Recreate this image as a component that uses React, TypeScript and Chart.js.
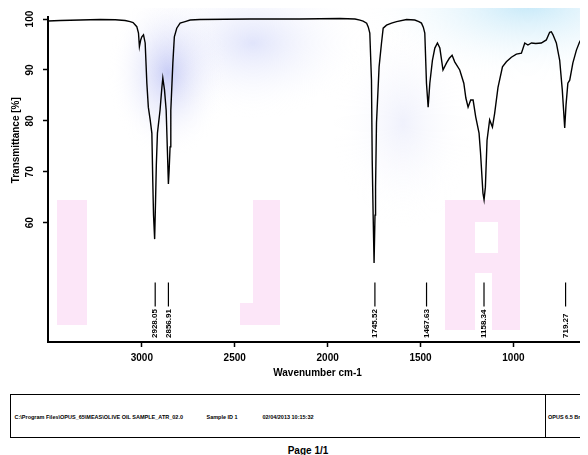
import React, { useEffect, useRef } from 'react';
import { Chart, registerables } from 'chart.js';

Chart.register(...registerables);

// Spectrum (wavenumber cm-1 -> transmittance %)
const wavenumbers = [
  3505, 3439, 3332, 3224, 3143, 3090, 3063, 3047, 3027, 3018,
  3013, 3006, 3000, 2991, 2982, 2973, 2965, 2955, 2946, 2941,
  2937, 2931, 2926, 2922, 2916, 2902, 2892, 2887, 2878, 2869,
  2862, 2857, 2853, 2848, 2844, 2833, 2825, 2812, 2794, 2767,
  2740, 2687, 2418, 2149, 1934, 1853, 1826, 1809, 1790, 1781,
  1773, 1764, 1760, 1755, 1750, 1745, 1742, 1737, 1723, 1710,
  1701, 1683, 1656, 1629, 1575, 1531, 1509, 1495, 1485, 1477,
  1468, 1459, 1450, 1436, 1423, 1409, 1396, 1379, 1360, 1345,
  1330, 1316, 1289, 1267, 1256, 1244, 1230, 1217, 1203, 1185,
  1177, 1164, 1158, 1151, 1142, 1128, 1113, 1101, 1083, 1059,
  1038, 1011, 984, 957, 939, 922, 903, 880, 850, 823,
  805, 796, 787, 769, 751, 737, 730, 724, 717, 707,
  697, 680, 661, 644, 631, 617, 604,
];
const transmittance = [
  99.6, 99.7, 99.8, 99.9, 99.85, 99.7, 99.5, 99.3, 98.5, 97.25,
  94.6, 95.9, 96.5, 96.9, 95.3, 87.4, 82.7, 80.2, 77.6, 68.0,
  61.5, 56.8, 64.5, 71.3, 77.6, 82.1, 86.6, 88.4, 86.1, 82.1,
  73.7, 67.6, 70.3, 74.9, 82.1, 91.4, 96.5, 98.2, 99.2, 99.5,
  99.8, 99.9, 100, 100, 100.1, 100, 99.8, 99.6, 99.2, 98.4,
  97.25, 88.0, 72.3, 61.5, 52.1, 61.5, 67.0, 79.6, 90.6, 95.3,
  98.2, 98.8, 99.2, 99.5, 99.9, 99.8, 99.5, 99.2, 98.4, 97.25,
  87.4, 82.7, 87.4, 91.9, 94.3, 95.3, 94.3, 90.0, 91.4, 92.3,
  92.9, 91.6, 90.0, 87.4, 84.5, 82.7, 84.1, 84.1, 80.8, 77.6,
  73.7, 65.8, 64.5, 67.0, 76.2, 80.2, 78.8, 81.5, 86.6, 90.6,
  91.6, 92.5, 93.1, 93.3, 95.3, 94.9, 95.3, 95.2, 95.3, 95.9,
  97.4, 97.5, 96.9, 95.3, 91.9, 86.1, 82.1, 78.6, 83.1, 87.4,
  88.0, 91.4, 93.9, 95.5, 96.3, 95.5, 94.9,
];

const xTickValues = [3000, 2500, 2000, 1500, 1000];
const yTickValues = [60, 70, 80, 90, 100];
const xMin = 604;
const xMax = 3505;
const yMin = 36.6;
const yMax = 100.4;

const peakPositions = [2928.05, 2856.91, 1745.52, 1467.63, 1158.34, 719.27];
const peakLabels = peakPositions.map((v) => v.toFixed(2));

const xTitle = 'Wavenumber cm-1';
const yTitle = 'Transmittance [%]';
const yTitleCenterValue = 76.2;

const footerPath = 'C:\\Program Files\\OPUS_65\\MEAS\\OLIVE OIL SAMPLE_ATR_02.0';
const footerSample = 'Sample ID 1';
const footerDate = '02/04/2013 10:15:32';
const footerRight = 'OPUS 6.5 Bruker Optik';
const pageText = 'Page 1/1';

const FONT = '"Liberation Sans", Arial, Helvetica, sans-serif';

const watermarkPlugin = {
  id: 'watermark',
  beforeDraw(chart: any) {
    const ctx = chart.ctx as CanvasRenderingContext2D;
    ctx.save();
    const blob = (cx: number, cy: number, rx: number, ry: number, color: string) => {
      ctx.save();
      ctx.translate(cx, cy);
      ctx.scale(rx, ry);
      const g = ctx.createRadialGradient(0, 0, 0, 0, 0, 1);
      g.addColorStop(0, color);
      g.addColorStop(1, 'rgba(255,255,255,0)');
      ctx.fillStyle = g;
      ctx.beginPath();
      ctx.arc(0, 0, 1, 0, Math.PI * 2);
      ctx.fill();
      ctx.restore();
    };
    blob(245, 35, 115, 75, 'rgba(175,185,245,0.38)');
    blob(160, 65, 60, 85, 'rgba(135,145,235,0.45)');
    blob(395, 115, 70, 105, 'rgba(200,205,245,0.28)');
    blob(520, -5, 170, 80, 'rgba(165,220,245,0.65)');
    ctx.fillStyle = '#fce6f8';
    // I
    ctx.fillRect(49, 192, 30, 125);
    // J
    ctx.fillRect(245, 192, 27, 125);
    ctx.fillRect(232, 295, 40, 22);
    // R
    ctx.fillRect(437, 192, 30, 130);
    ctx.fillRect(437, 192, 75, 22);
    ctx.fillRect(490, 192, 22, 70);
    ctx.fillRect(437, 245, 75, 20);
    ctx.fillRect(484, 262, 28, 60);
    ctx.restore();
  },
};

const annotatePlugin = {
  id: 'annotate',
  afterDraw(chart: any) {
    const ctx = chart.ctx as CanvasRenderingContext2D;
    const area = chart.chartArea;
    const xs = chart.scales.x;
    const ys = chart.scales.y;
    ctx.save();
    ctx.fillStyle = '#000';
    ctx.strokeStyle = '#000';
    // right border
    ctx.lineWidth = 2;
    ctx.beginPath();
    ctx.moveTo(area.right, area.top - 3);
    ctx.lineTo(area.right, area.bottom);
    ctx.stroke();
    // y tick labels (rotated)
    ctx.font = `bold 10px ${FONT}`;
    ctx.textAlign = 'center';
    ctx.textBaseline = 'middle';
    yTickValues.forEach((v) => {
      const py = ys.getPixelForValue(v);
      ctx.save();
      ctx.translate(area.left - 17.5, py);
      ctx.rotate(-Math.PI / 2);
      ctx.fillText(String(v), 0, 0);
      ctx.restore();
    });
    // y title
    ctx.save();
    ctx.translate(area.left - 31.5, ys.getPixelForValue(yTitleCenterValue));
    ctx.rotate(-Math.PI / 2);
    ctx.fillText(yTitle, 0, 0);
    ctx.restore();
    // peak annotations
    ctx.lineWidth = 1.2;
    ctx.font = `bold 8px ${FONT}`;
    ctx.textAlign = 'left';
    peakPositions.forEach((v, i) => {
      const px = xs.getPixelForValue(v);
      ctx.beginPath();
      ctx.moveTo(px, area.bottom - 59.5);
      ctx.lineTo(px, area.bottom - 35.5);
      ctx.stroke();
      ctx.save();
      ctx.translate(px, area.bottom - 4);
      ctx.rotate(-Math.PI / 2);
      ctx.fillText(peakLabels[i], 0, 0);
      ctx.restore();
    });
    ctx.restore();
  },
};

export default function App() {
  const ref = useRef<HTMLCanvasElement | null>(null);

  useEffect(() => {
    if (!ref.current) return;
    const points = wavenumbers.map((w, i) => ({ x: w, y: transmittance[i] }));
    const axisGrid = {
      display: true,
      drawOnChartArea: false,
      drawTicks: true,
      tickLength: 5,
      tickColor: '#000',
      tickWidth: 1.5,
    };
    const axisBorder = { display: true, color: '#000', width: 2 };
    const chart = new Chart(ref.current, {
      type: 'line',
      data: {
        datasets: [
          {
            data: points,
            borderColor: '#000',
            borderWidth: 1.4,
            pointRadius: 0,
            fill: false,
            tension: 0,
          },
        ],
      },
      options: {
        animation: false,
        responsive: false,
        layout: { padding: { top: 9, right: 1, left: 0, bottom: 0 } },
        plugins: {
          legend: { display: false },
          tooltip: { enabled: false },
          title: { display: false },
        },
        scales: {
          x: {
            type: 'linear',
            reverse: true,
            min: xMin,
            max: xMax,
            afterBuildTicks: (s: any) => {
              s.ticks = xTickValues.map((v) => ({ value: v }));
            },
            afterFit: (s: any) => {
              s.height = 46;
            },
            grid: axisGrid,
            border: axisBorder,
            ticks: {
              color: '#000',
              autoSkip: false,
              maxRotation: 0,
              padding: 5,
              font: { family: FONT, size: 10, weight: 'bold' },
              callback: (v: any) => String(v),
            },
            title: {
              display: true,
              text: xTitle,
              color: '#000',
              font: { family: FONT, size: 10, weight: 'bold' },
              padding: { top: 0, bottom: 9 },
            },
          },
          y: {
            type: 'linear',
            min: yMin,
            max: yMax,
            afterBuildTicks: (s: any) => {
              s.ticks = yTickValues.map((v) => ({ value: v }));
            },
            afterFit: (s: any) => {
              s.width = 40;
            },
            grid: axisGrid,
            border: axisBorder,
            ticks: { display: false },
            title: { display: false },
          },
        },
      } as any,
      plugins: [watermarkPlugin, annotatePlugin],
    });
    return () => chart.destroy();
  }, []);

  const small = {
    position: 'absolute' as const,
    top: 19,
    fontFamily: FONT,
    fontSize: '5.5px',
    fontWeight: 'bold' as const,
    whiteSpace: 'nowrap' as const,
    lineHeight: '6px',
    color: '#000',
  };

  return (
    <div style={{ position: 'relative', width: 580, height: 447, overflow: 'hidden' }}>
      <style>{'html,body{overflow:hidden}'}</style>
      <canvas
        ref={ref}
        width={580}
        height={380}
        style={{ position: 'absolute', left: 0, top: 0, display: 'block' }}
      />
      <div
        style={{
          position: 'absolute',
          left: 2,
          top: 386,
          width: 620,
          height: 42,
          border: '1.5px solid #000',
        }}
      >
        <div style={{ ...small, left: 3.5 }}>{footerPath}</div>
        <div style={{ ...small, left: 195.5 }}>{footerSample}</div>
        <div style={{ ...small, left: 251.5 }}>{footerDate}</div>
        <div
          style={{
            position: 'absolute',
            left: 533.5,
            top: 0,
            bottom: 0,
            width: 1.5,
            background: '#000',
          }}
        />
        <div style={{ ...small, left: 537 }}>{footerRight}</div>
      </div>
      <div
        style={{
          position: 'absolute',
          left: 2,
          width: 596,
          top: 437,
          textAlign: 'center',
          fontFamily: FONT,
          fontSize: '10px',
          fontWeight: 'bold',
          lineHeight: '12px',
          color: '#000',
        }}
      >
        {pageText}
      </div>
    </div>
  );
}
